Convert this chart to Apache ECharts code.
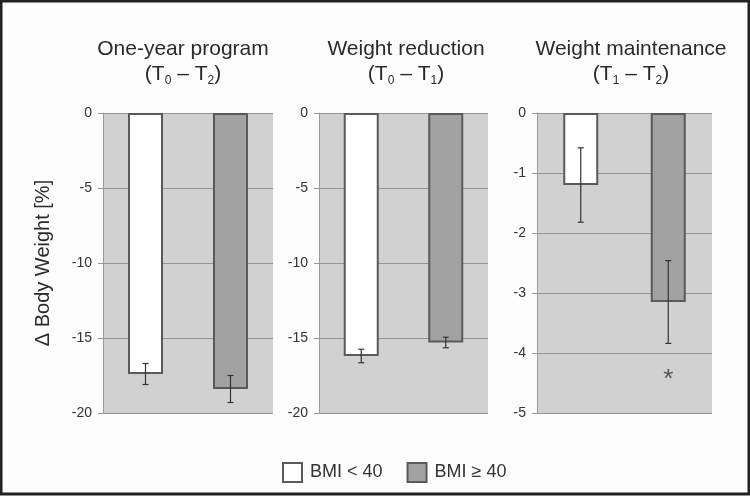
<!DOCTYPE html>
<html>
<head>
<meta charset="utf-8">
<title>Body weight change</title>
<script src="https://cdn.jsdelivr.net/npm/echarts@6/dist/echarts.min.js"></script>
<style>
  html, body { margin: 0; padding: 0; background: #fdfdfd; }
  #main { width: 750px; height: 496px; }
</style>
</head>
<body>
<div id="main"></div>
<script>
// data
var panelTitles = ['One-year program', 'Weight reduction', 'Weight maintenance'];
var periodFrom = ['0', '0', '1'];
var periodTo = ['2', '1', '2'];
var groups = ['BMI < 40', 'BMI ≥ 40'];
var meanBmiLow = [-17.4, -16.2, -1.2];   // BMI < 40
var meanBmiHigh = [-18.4, -15.3, -3.15]; // BMI >= 40
var errBmiLow = [0.7, 0.45, 0.62];
var errBmiHigh = [0.9, 0.35, 0.69];
var yMin = [-20, -20, -5];
var yStep = [5, 5, 1];
var signifMark = [null, null, -4.35]; // asterisk under BMI >= 40

var gridLeft = [103, 319, 537];
var gridWidth = [170, 169, 175];
var titleCenter = [178, 401, 626];

var chart = echarts.init(document.getElementById('main'));

function renderErr(params, api) {
  var x = api.value(0);
  var lo = api.coord([x, api.value(1)]);
  var hi = api.coord([x, api.value(2)]);
  var cap = 3;
  var st = { stroke: '#333', lineWidth: 1.2 };
  return {
    type: 'group',
    children: [
      { type: 'line', shape: { x1: lo[0], y1: lo[1], x2: hi[0], y2: hi[1] }, style: st },
      { type: 'line', shape: { x1: lo[0] - cap, y1: lo[1], x2: lo[0] + cap, y2: lo[1] }, style: st },
      { type: 'line', shape: { x1: hi[0] - cap, y1: hi[1], x2: hi[0] + cap, y2: hi[1] }, style: st }
    ]
  };
}

var grids = [], xAxes = [], yAxes = [], titles = [], series = [];
for (var i = 0; i < 3; i++) {
  grids.push({
    left: gridLeft[i], width: gridWidth[i], top: 113, height: 300,
    show: true, backgroundColor: '#d1d1d1', borderWidth: 0
  });
  xAxes.push({
    gridIndex: i, type: 'category', data: groups,
    axisLine: { show: false }, axisTick: { show: false }, axisLabel: { show: false }
  });
  yAxes.push({
    gridIndex: i, type: 'value', min: yMin[i], max: 0, interval: yStep[i],
    name: i === 0 ? 'Δ Body Weight [%]' : '',
    nameLocation: 'middle', nameGap: 50,
    nameTextStyle: { fontSize: 20, color: '#2a2a2a', fontFamily: 'Liberation Sans' },
    axisLine: { show: true, lineStyle: { color: '#999', width: 1 } },
    axisTick: { show: true, length: 5, lineStyle: { color: '#999' } },
    axisLabel: { fontSize: 14, color: '#333', margin: 11, fontFamily: 'Liberation Sans' },
    splitLine: { lineStyle: { color: '#959595', width: 1 } }
  });
  titles.push({
    text: panelTitles[i] + '\n(T{s|' + periodFrom[i] + '} – T{s|' + periodTo[i] + '})',
    left: titleCenter[i], top: 32, textAlign: 'center',
    textStyle: {
      fontSize: 21, fontWeight: 'normal', color: '#2a2a2a', lineHeight: 25,
      fontFamily: 'Liberation Sans',
      rich: { s: { fontSize: 12, color: '#2a2a2a', padding: [12, 0, 0, 0], fontFamily: 'Liberation Sans' } }
    }
  });
  series.push({
    name: groups[0], type: 'bar', xAxisIndex: i, yAxisIndex: i,
    data: [meanBmiLow[i], '-'], barWidth: 35, barGap: '-100%',
    itemStyle: { color: '#ffffff', borderColor: '#5a5a5a', borderWidth: 2 }
  });
  series.push({
    name: groups[1], type: 'bar', xAxisIndex: i, yAxisIndex: i,
    data: ['-', meanBmiHigh[i]], barWidth: 35, barGap: '-100%',
    itemStyle: { color: '#a2a2a2', borderColor: '#5a5a5a', borderWidth: 2 }
  });
  series.push({
    type: 'custom', xAxisIndex: i, yAxisIndex: i, z: 5,
    renderItem: renderErr,
    data: [
      [0, meanBmiLow[i] - errBmiLow[i], meanBmiLow[i] + errBmiLow[i]],
      [1, meanBmiHigh[i] - errBmiHigh[i], meanBmiHigh[i] + errBmiHigh[i]]
    ]
  });
  if (signifMark[i] !== null) {
    series.push({
      type: 'scatter', xAxisIndex: i, yAxisIndex: i, symbolSize: 2, z: 6,
      itemStyle: { color: 'rgba(0,0,0,0)' },
      data: [[1, signifMark[i]]],
      label: {
        show: true, position: 'inside', formatter: '*',
        fontSize: 26, color: '#333', offset: [0, 6], fontFamily: 'Liberation Sans'
      }
    });
  }
}

chart.setOption({
  animation: false,
  backgroundColor: '#fdfdfd',
  title: titles,
  grid: grids,
  xAxis: xAxes,
  yAxis: yAxes,
  legend: {
    data: groups,
    left: 277, top: 457,
    icon: 'rect', itemWidth: 19, itemHeight: 19, itemGap: 24,
    textStyle: { fontSize: 18, color: '#333', fontFamily: 'Liberation Sans', padding: [0, 0, 0, 3] }
  },
  graphic: [{
    type: 'rect', silent: true,
    shape: { x: 1, y: 1, width: 748, height: 493 },
    style: { fill: null, stroke: '#222', lineWidth: 3 }
  }],
  series: series
});
</script>
</body>
</html>
